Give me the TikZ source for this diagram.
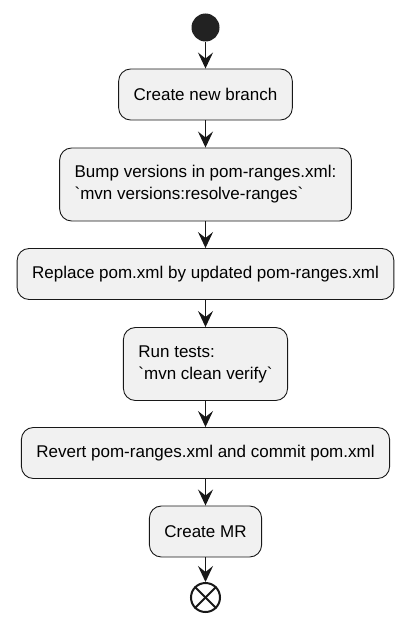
\documentclass[tikz,border=0pt]{standalone}
\usepackage{fontspec}
\setmainfont{Liberation Sans}
\usetikzlibrary{arrows.meta}
\definecolor{actfill}{HTML}{F1F1F1}
\definecolor{actline}{HTML}{181818}
\definecolor{startfill}{HTML}{222222}
\begin{document}
\begin{tikzpicture}[x=1pt,y=-1pt,
  act/.style={draw=actline, fill=actfill, rounded corners=12pt, line width=0.9pt, inner xsep=15pt, minimum height=51pt, align=left, font=\fontsize{17}{22}\selectfont},
  acttwo/.style={act, minimum height=73pt},
  flow/.style={draw=actline, line width=1.5pt, -{Stealth[length=16pt,width=15pt,inset=6pt]}}]
\useasboundingbox (0,0) rectangle (410,626);
\node[circle, fill=startfill, minimum size=28pt, inner sep=0pt] (start) at (205.5,27.5) {};
\node[act] (branch) at (205.5,94.5) {Create new branch};
\node[acttwo] (bump) at (205.5,184.5) {Bump versions in pom-ranges.xml:\\\textasciigrave{}mvn versions:resolve-ranges\textasciigrave{}};
\node[act] (replace) at (205.5,274) {Replace pom.xml by updated pom-ranges.xml};
\node[acttwo] (tests) at (205.5,364) {Run tests:\\\textasciigrave{}mvn clean verify\textasciigrave{}};
\node[act] (revert) at (205.5,453) {Revert pom-ranges.xml and commit pom.xml};
\node[act] (mr) at (205.5,531.5) {Create MR};
\node[circle, draw=actline, line width=2pt, minimum size=29pt, inner sep=0pt] (stop) at (205.5,597.5) {};
\path[draw=actline, line width=2pt] (stop.north west) -- (stop.south east);
\path[draw=actline, line width=2pt] (stop.north east) -- (stop.south west);

\path[flow] (start) -- (branch);
\path[flow] (branch) -- (bump);
\path[flow] (bump) -- (replace);
\path[flow] (replace) -- (tests);
\path[flow] (tests) -- (revert);
\path[flow] (revert) -- (mr);
\path[flow] (mr) -- (stop);
\end{tikzpicture}
\end{document}
